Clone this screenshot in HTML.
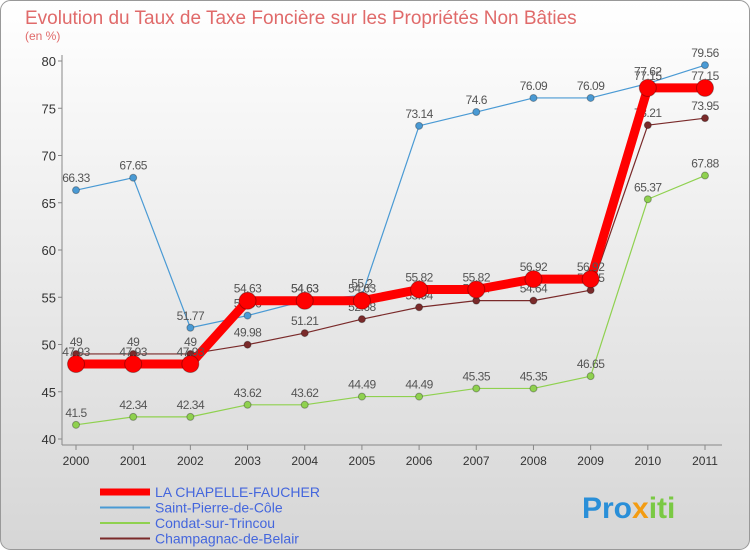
<!DOCTYPE html>
<html><head><meta charset="utf-8"><style>
body{margin:0;width:750px;height:550px;overflow:hidden;font-family:"Liberation Sans",sans-serif}
</style></head><body>
<svg width="750" height="550" xmlns="http://www.w3.org/2000/svg">
<defs><linearGradient id="bg" x1="0" y1="0" x2="0" y2="1"><stop offset="0" stop-color="#ffffff"/><stop offset="1" stop-color="#d6d6d6"/></linearGradient></defs>
<rect x="0.5" y="0.5" width="749" height="549" rx="10" fill="url(#bg)" stroke="#999"/>
<text x="25" y="24" font-size="19" fill="#e06a6a">Evolution du Taux de Taxe Foncière sur les Propriétés Non Bâties</text>
<text x="25" y="40" font-size="12" fill="#e06a6a">(en %)</text>
<g id="plot"></g>
<g id="legend"></g>
<text x="582" y="518" font-size="30" font-weight="bold" fill="#2a8fd8">Pro<tspan fill="#f39c12">x</tspan><tspan fill="#7ac943">iti</tspan></text>
</svg>
<script>
const years=["2000","2001","2002","2003","2004","2005","2006","2007","2008","2009","2010","2011"];
const yTicks=[40,45,50,55,60,65,70,75,80];
const chapelle=[47.93,47.93,47.93,54.63,54.63,54.63,55.82,55.82,56.92,56.92,77.15,77.15];
const stPierre=[66.33,67.65,51.77,53.06,54.63,55.2,73.14,74.6,76.09,76.09,77.62,79.56];
const condat=[41.5,42.34,42.34,43.62,43.62,44.49,44.49,45.35,45.35,46.65,65.37,67.88];
const champagnac=[49,49,49,49.98,51.21,52.68,53.94,54.64,54.64,55.75,73.21,73.95];
const NS="http://www.w3.org/2000/svg";
const X=i=>76+i*(705-76)/11;
const Y=v=>439-(v-40)*(439-61)/40;
const plot=document.getElementById('plot');
function mk(t,a,p){const e=document.createElementNS(NS,t);for(const k in a)e.setAttribute(k,a[k]);(p||plot).appendChild(e);return e;}
let ax=mk('line',{x1:62,y1:55,x2:62,y2:445,stroke:'#888'});

let bx=mk('line',{x1:62,y1:445,x2:722,y2:445,stroke:'#888'});

yTicks.forEach(v=>{let t=mk('text',{x:56,y:Y(v)+5,'text-anchor':'end','font-size':13,fill:'#333'});t.textContent=v;

mk('line',{x1:58,y1:Y(v),x2:62,y2:Y(v),stroke:'#888'});});
years.forEach((y,i)=>{let t=mk('text',{x:X(i),y:465,'text-anchor':'middle','font-size':12,fill:'#333'});t.textContent=y;

mk('line',{x1:X(i),y1:445,x2:X(i),y2:450,stroke:'#888'});});
function series(d,color,w,r,name){
 const g=mk('g',{});
 mk('polyline',{points:d.map((v,i)=>X(i)+','+Y(v)).join(' '),fill:'none',stroke:color,'stroke-width':w,'stroke-linejoin':'round'},g);
 d.forEach((v,i)=>{let c=mk('circle',{cx:X(i),cy:Y(v),r:r,fill:color,stroke:'rgba(0,0,0,0.3)','stroke-width':1},g);
 
 let t=mk('text',{x:X(i),y:Y(v)-8,'text-anchor':'middle','font-size':12,fill:'#555','letter-spacing':'-0.5'},g);
 t.textContent=String(v);});
}
series(condat,'#8fd14f',1.2,3.5,'condat-series');
series(champagnac,'#7a2a2a',1.2,3.5,'champagnac-series');
series(stPierre,'#4a9ad4',1.2,3.5,'st-pierre-series');
series(chapelle,'#ff0000',9,8.5,'chapelle-series');
const leg=[["LA CHAPELLE-FAUCHER","#ff0000",7],["Saint-Pierre-de-Côle","#4a9ad4",2],["Condat-sur-Trincou","#8fd14f",2],["Champagnac-de-Belair","#7a2a2a",2]];
const lg=document.getElementById('legend');
leg.forEach((l,i)=>{const y=492+i*15.5;
 mk('line',{x1:100,y1:y,x2:150,y2:y,stroke:l[1],'stroke-width':l[2]},lg);
 let t=mk('text',{x:155,y:y+5,'font-size':14,fill:'#4466dd'},lg);t.textContent=l[0];
 });
</script>
</body></html>
